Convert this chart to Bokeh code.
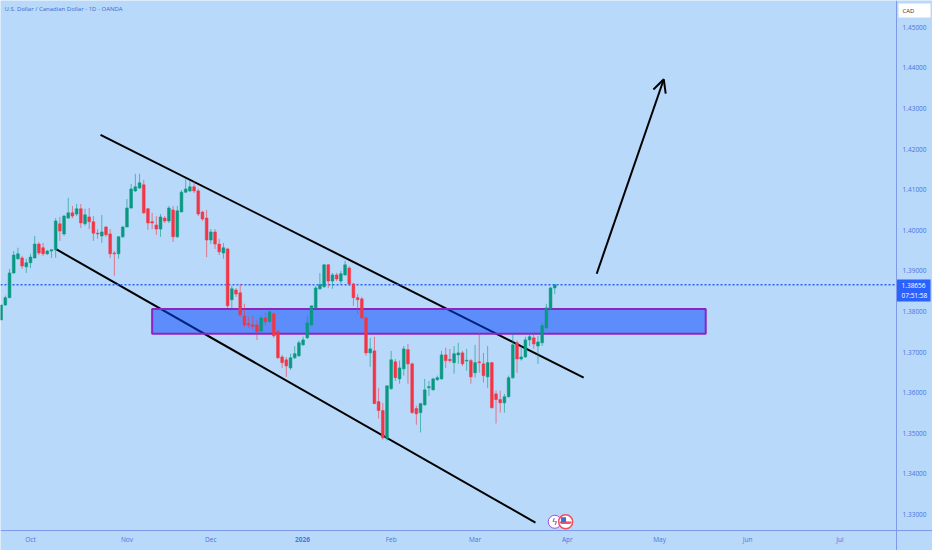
from bokeh.plotting import figure
from bokeh.models import (ColumnDataSource, LinearAxis, FixedTicker, NumeralTickFormatter,
                          Arrow, OpenHead, Label)
from bokeh.core.properties import value
from bokeh.embed import file_html
from bokeh.resources import INLINE

FIRST_BAR = -7
opens = [1.3779,1.3816,1.3834,1.3895,1.3930,1.3932,1.3910,1.3920,1.3932,1.3966,1.3957,1.3942,1.3949,1.3952,1.4016,1.3991,1.4030,1.4043,1.4040,1.4053,1.4016,1.4033,1.4021,1.3993,1.3986,1.4008,1.3991,1.3944,1.3942,1.3984,1.4008,1.4055,1.4097,1.4104,1.4112,1.4053,1.4021,1.4013,1.4003,1.4030,1.4023,1.4050,1.3984,1.4045,1.4094,1.4097,1.4107,1.4097,1.4045,1.4030,1.3976,1.3996,1.3966,1.3944,1.3954,1.3829,1.3853,1.3846,1.3789,1.3770,1.3767,1.3767,1.3752,1.3784,1.3775,1.3794,1.3750,1.3688,1.3681,1.3661,1.3686,1.3691,1.3718,1.3735,1.3767,1.3809,1.3856,1.3861,1.3915,1.3875,1.3890,1.3875,1.3890,1.3907,1.3868,1.3834,1.3831,1.3784,1.3698,1.3703,1.3578,1.3556,1.3487,1.3610,1.3676,1.3634,1.3659,1.3706,1.3671,1.3561,1.3551,1.3570,1.3612,1.3607,1.3632,1.3634,1.3693,1.3682,1.3674,1.3693,1.3698,1.3678,1.3679,1.3649,1.3676,1.3671,1.3639,1.3674,1.3597,1.3583,1.3575,1.3590,1.3637,1.3723,1.3683,1.3688,1.3730,1.3735,1.3715,1.3723,1.3760,1.3807,1.3858]
highs = [1.3816,1.3839,1.3905,1.3949,1.3957,1.3937,1.3930,1.3942,1.3986,1.3971,1.3969,1.3952,1.3954,1.4030,1.4033,1.4038,1.4080,1.4060,1.4065,1.4065,1.4053,1.4055,1.4035,1.4003,1.4038,1.4011,1.4003,1.3949,1.3986,1.4011,1.4077,1.4114,1.4139,1.4139,1.4124,1.4055,1.4043,1.4035,1.4040,1.4035,1.4060,1.4060,1.4060,1.4099,1.4126,1.4121,1.4121,1.4102,1.4048,1.4050,1.4003,1.4003,1.3979,1.3969,1.3957,1.3863,1.3858,1.3868,1.3819,1.3787,1.3789,1.3779,1.3789,1.3797,1.3802,1.3799,1.3755,1.3693,1.3688,1.3696,1.3715,1.3728,1.3738,1.3789,1.3814,1.3863,1.3895,1.3917,1.3917,1.3895,1.3895,1.3900,1.3925,1.3912,1.3870,1.3843,1.3836,1.3787,1.3735,1.3738,1.3612,1.3575,1.3617,1.3703,1.3683,1.3679,1.3715,1.3720,1.3674,1.3568,1.3575,1.3634,1.3629,1.3637,1.3642,1.3703,1.3711,1.3708,1.3715,1.3723,1.3703,1.3708,1.3683,1.3718,1.3747,1.3698,1.3715,1.3676,1.3605,1.3605,1.3597,1.3642,1.3745,1.3728,1.3715,1.3738,1.3747,1.3745,1.3740,1.3772,1.3819,1.3861,1.3868]
lows = [1.3779,1.3814,1.3834,1.3893,1.3927,1.3905,1.3895,1.3907,1.3930,1.3939,1.3937,1.3939,1.3932,1.3932,1.3974,1.3986,1.4028,1.4030,1.4035,1.4006,1.4011,1.4003,1.3974,1.3979,1.3969,1.3984,1.3932,1.3888,1.3930,1.3981,1.4008,1.4053,1.4094,1.4102,1.4040,1.4001,1.4003,1.3989,1.3984,1.4018,1.4018,1.3971,1.3981,1.4045,1.4092,1.4094,1.4092,1.4035,1.4023,1.3934,1.3966,1.3954,1.3939,1.3930,1.3809,1.3807,1.3836,1.3787,1.3762,1.3760,1.3755,1.3730,1.3750,1.3765,1.3772,1.3735,1.3683,1.3661,1.3639,1.3656,1.3683,1.3688,1.3715,1.3733,1.3765,1.3807,1.3853,1.3858,1.3858,1.3856,1.3875,1.3868,1.3888,1.3863,1.3814,1.3794,1.3782,1.3691,1.3664,1.3573,1.3536,1.3484,1.3482,1.3607,1.3629,1.3622,1.3642,1.3622,1.3548,1.3521,1.3502,1.3568,1.3592,1.3605,1.3629,1.3632,1.3661,1.3674,1.3647,1.3671,1.3666,1.3654,1.3622,1.3637,1.3649,1.3625,1.3612,1.3561,1.3524,1.3551,1.3551,1.3588,1.3634,1.3649,1.3679,1.3686,1.3715,1.3708,1.3671,1.3715,1.3757,1.3804,1.3843]
closes = [1.3816,1.3834,1.3895,1.3939,1.3942,1.3912,1.3920,1.3934,1.3966,1.3944,1.3942,1.3949,1.3952,1.4023,1.3998,1.4035,1.4043,1.4035,1.4053,1.4018,1.4038,1.4021,1.3993,1.3991,1.3996,1.3989,1.3942,1.3942,1.3984,1.4008,1.4055,1.4102,1.4107,1.4117,1.4043,1.4018,1.4018,1.4003,1.4033,1.4023,1.4055,1.3984,1.4048,1.4094,1.4102,1.4107,1.4097,1.4040,1.4028,1.3976,1.3996,1.3966,1.3947,1.3957,1.3814,1.3856,1.3843,1.3792,1.3767,1.3767,1.3763,1.3750,1.3784,1.3775,1.3799,1.3740,1.3686,1.3674,1.3666,1.3686,1.3696,1.3723,1.3730,1.3772,1.3814,1.3858,1.3866,1.3915,1.3875,1.3890,1.3880,1.3893,1.3915,1.3868,1.3834,1.3829,1.3784,1.3698,1.3708,1.3573,1.3556,1.3489,1.3617,1.3681,1.3637,1.3661,1.3708,1.3671,1.3551,1.3548,1.3573,1.3607,1.3615,1.3634,1.3637,1.3693,1.3679,1.3679,1.3696,1.3698,1.3671,1.3680,1.3639,1.3674,1.3674,1.3642,1.3674,1.3563,1.3583,1.3575,1.3590,1.3637,1.3718,1.3683,1.3688,1.3730,1.3738,1.3720,1.3725,1.3765,1.3809,1.3858,1.38656]

price_ticks = [1.33,1.34,1.35,1.36,1.37,1.38,1.39,1.40,1.41,1.42,1.43,1.44,1.45]
month_bars = [0,23,43,65,86,106,128,150,171,193]
month_labels = ["Oct","Nov","Dec","","Feb","Mar","Apr","May","Jun","Jul"]
year_label = "2026"
last_price = 1.38656
countdown = "07:51:58"
title_text = "U.S. Dollar / Canadian Dollar - 1D - OANDA"
currency = "CAD"

upper_x, upper_y = [16.7, 131.9], [1.4235, 1.3637]
lower_x, lower_y = [6.0, 120.4], [1.3954, 1.3280]
zone_x0, zone_x1, zone_top, zone_bottom = 29.0, 161.0, 1.3806, 1.3745
arrow_x, arrow_y = [135.0, 151.0], [1.3893, 1.4372]
event_x, event_y = [125.0, 127.6], [1.3282, 1.3282]

BG = "#b9d9fa"
UP, DOWN = "#089981", "#f23645"
AXIS = "#7d9bea"
TEXT = "#4a74e0"
BLUE = "#2962ff"
FONT = "Open Sans"

X0, X1, Y0, Y1 = -7.153, 215.07, 1.32113, 1.4566
AXIS_X, AXIS_Y = 206.5, 1.32606

bars = list(range(FIRST_BAR, FIRST_BAR + len(opens)))
colors = [UP if c >= o else DOWN for o, c in zip(opens, closes)]
src = ColumnDataSource(dict(x=bars, o=opens, h=highs, l=lows, c=closes, color=colors))

p = figure(width=932, height=550, output_backend="svg", toolbar_location=None,
           x_range=(X0, X1), y_range=(Y0, Y1),
           x_axis_location=None, y_axis_location=None,
           min_border_left=0, min_border_top=0, min_border_right=0, min_border_bottom=0,
           background_fill_color=BG, border_fill_color=BG, outline_line_color=None)
p.grid.visible = False

yaxis = LinearAxis(ticker=FixedTicker(ticks=price_ticks), fixed_location=AXIS_X,
                   formatter=NumeralTickFormatter(format="0.00000"))
xaxis = LinearAxis(ticker=FixedTicker(ticks=month_bars), fixed_location=AXIS_Y,
                   major_label_overrides=dict(zip(month_bars, month_labels)))
for ax, st in ((yaxis, 6), (xaxis, 5)):
    ax.axis_line_color = AXIS
    ax.axis_line_width = 1
    ax.major_tick_line_color = None
    ax.minor_tick_line_color = None
    ax.major_tick_out = 0
    ax.major_tick_in = 0
    ax.major_label_text_color = TEXT
    ax.major_label_text_font = FONT
    ax.major_label_text_font_size = "6.5px"
    ax.major_label_standoff = st
p.add_layout(yaxis, "right")
p.add_layout(xaxis, "below")

p.line(upper_x, upper_y, line_color="black", line_width=2)
p.line(lower_x, lower_y, line_color="black", line_width=2)

p.quad(left=[zone_x0], right=[zone_x1], top=[zone_top], bottom=[zone_bottom],
       fill_color="#0041fa", fill_alpha=0.5, line_color="#8e24c0", line_width=2)

p.line([X0, AXIS_X], [last_price, last_price], line_color=BLUE, line_width=1.5, line_dash="2 2")

p.segment("x", "h", "x", "l", source=src, line_color="color", line_width=1, line_alpha=0.6)
p.vbar("x", 0.66, "o", "c", source=src, fill_color="color", line_color="color", line_width=0.5)

p.add_layout(Arrow(end=OpenHead(size=13, line_color="black", line_width=2),
                   x_start=arrow_x[0], y_start=arrow_y[0], x_end=arrow_x[1], y_end=arrow_y[1],
                   line_color="black", line_width=2))

p.scatter(event_x[:1], event_y[:1], size=13, fill_color="white", line_color="#a050d8", line_width=1)
p.text(event_x[:1], event_y[:1], text=["ϟ"], text_color="#8e24c0", text_font_size="9px",
       text_align="center", text_baseline="middle", text_font=value("DejaVu Sans"))
p.scatter(event_x[1:], event_y[1:], size=14, fill_color="white", line_color="#f05060", line_width=1.5)
p.scatter(event_x[1:], [event_y[1] - 0.00035], marker="dash", size=10, line_color="#f05060", line_width=1.5)
p.scatter(event_x[1:], [event_y[1] - 0.0001], marker="dash", size=12, line_color="#f05060", line_width=1.5)
p.scatter([event_x[1] - 0.5], [event_y[1] + 0.0005], marker="square", size=5,
          fill_color="#3b6fd8", line_color=None)

# boxes behind the currency and the last-price label on the price scale
p.quad(left=[206.96], right=[214.6], top=[1.45586], bottom=[1.45241], fill_color="white", line_color=None)
p.quad(left=[AXIS_X], right=[214.6], top=[1.38788], bottom=[1.38246], fill_color=BLUE, line_color=None)

p.add_layout(Label(x=4, y=8, x_units="canvas", y_units="canvas", text=title_text, text_color="#3f68d0",
                   text_font=FONT, text_font_size="6px", text_baseline="middle"))
p.add_layout(Label(x=302, y=539, x_units="canvas", y_units="canvas", text=year_label, text_color=TEXT,
                   text_font=FONT, text_font_size="6.5px", text_font_style="bold", text_align="center",
                   text_baseline="middle"))
p.add_layout(Label(x=902, y=10, x_units="canvas", y_units="canvas", text=currency, text_color="#333333",
                   text_font=FONT, text_font_size="6px", text_baseline="middle"))
p.add_layout(Label(x=901, y=285, x_units="canvas", y_units="canvas", text="%.5f" % last_price,
                   text_color="white", text_font=FONT, text_font_size="6.5px", text_baseline="middle"))
p.add_layout(Label(x=901, y=295, x_units="canvas", y_units="canvas", text=countdown,
                   text_color="white", text_font=FONT, text_font_size="6.5px", text_baseline="middle"))

open("out.html", "w").write(file_html(p, INLINE))
